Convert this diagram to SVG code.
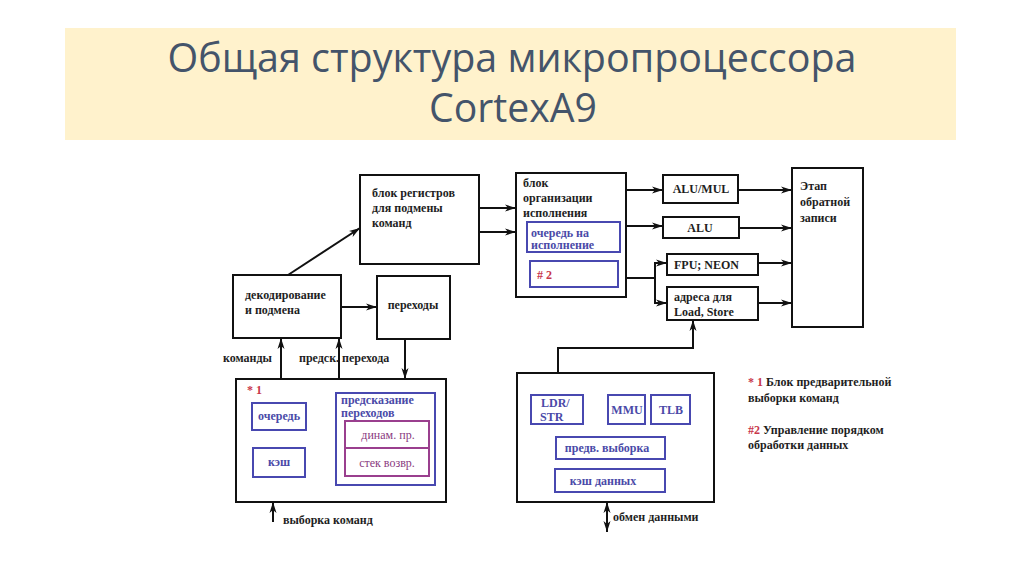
<svg xmlns="http://www.w3.org/2000/svg" width="1024" height="574" viewBox="0 0 1024 574">
<defs>
<marker id="arr" markerUnits="userSpaceOnUse" markerWidth="12" markerHeight="8" refX="11" refY="4" orient="auto-start-reverse">
<path d="M0,0.5 L11,4 L0,7.5 L3,4 Z" fill="#111"/>
</marker>
</defs>
<style>
.bx{fill:#fff;stroke:#111;stroke-width:2}
.bb{fill:none;stroke:#4848b0;stroke-width:2}
.bp{fill:none;stroke:#9a3f8e;stroke-width:2}
.t{font-family:"Liberation Serif","Times New Roman",serif;font-weight:bold;font-size:12px;fill:#1e1e1e}
.tb{fill:#4a4aa8}
.tr{fill:#c8364a}
.tp{font-family:"Liberation Serif","Times New Roman",serif;font-size:12px;fill:#8a3a80}
.c{text-anchor:middle}
.ln{fill:none;stroke:#111;stroke-width:2}
.ttl{font-family:"Open Sans","Noto Sans",sans-serif;font-size:40px;font-weight:500;fill:#44546A;text-anchor:middle}
</style>
<rect width="1024" height="574" fill="#fff"/>
<g id="title">
<rect x="65" y="28" width="891" height="112" fill="#FFF2CC"/>
<text class="ttl" x="512" y="72" textLength="689" lengthAdjust="spacingAndGlyphs">Общая структура микропроцессора</text>
<text class="ttl" x="513" y="122" textLength="168" lengthAdjust="spacingAndGlyphs">CortexA9</text>
</g>
<g id="connectors">
<line class="ln" x1="288" y1="275" x2="360" y2="228" marker-end="url(#arr)"/>
<line class="ln" x1="479" y1="208" x2="516" y2="208" marker-end="url(#arr)"/>
<line class="ln" x1="479" y1="232" x2="516" y2="232" marker-end="url(#arr)"/>
<line class="ln" x1="341" y1="307" x2="377" y2="307" marker-end="url(#arr)"/>
<line class="ln" x1="405" y1="339" x2="405" y2="379" marker-end="url(#arr)"/>
<line class="ln" x1="281" y1="379" x2="281" y2="338" marker-end="url(#arr)"/>
<line class="ln" x1="339" y1="379" x2="339" y2="338" marker-end="url(#arr)"/>
<line class="ln" x1="273" y1="522" x2="273" y2="502" marker-end="url(#arr)"/>
<line class="ln" x1="626" y1="190" x2="663" y2="190" marker-end="url(#arr)"/>
<line class="ln" x1="626" y1="226" x2="663" y2="226" marker-end="url(#arr)"/>
<path class="ln" d="M626,278 H655"/>
<path class="ln" d="M655,278 V263 H667" marker-end="url(#arr)"/>
<path class="ln" d="M655,278 V303 H667" marker-end="url(#arr)"/>
<line class="ln" x1="738" y1="190" x2="792" y2="190" marker-end="url(#arr)"/>
<line class="ln" x1="739" y1="228" x2="792" y2="228" marker-end="url(#arr)"/>
<line class="ln" x1="758" y1="263" x2="792" y2="263" marker-end="url(#arr)"/>
<line class="ln" x1="758" y1="303" x2="792" y2="303" marker-end="url(#arr)"/>
<path class="ln" d="M693,320 V348 H558 V395" marker-start="url(#arr)" marker-end="url(#arr)"/>
<line class="ln" x1="607" y1="502" x2="607" y2="532" marker-start="url(#arr)" marker-end="url(#arr)"/>
</g>
<g id="regs">
<rect class="bx" x="360" y="175" width="119" height="89"/>
<text class="t" x="372" y="197">блок регистров</text>
<text class="t" x="372" y="212">для подмены</text>
<text class="t" x="372" y="227">команд</text>
</g>
<g id="decode">
<rect class="bx" x="233" y="275" width="108" height="63"/>
<text class="t" x="245" y="299">декодирование</text>
<text class="t" x="245" y="314">и подмена</text>
</g>
<g id="jumps">
<rect class="bx" x="377" y="276" width="73" height="63"/>
<text class="t c" x="413" y="309">переходы</text>
</g>
<g id="execorg">
<rect class="bx" x="516" y="173" width="110" height="124"/>
<text class="t" x="523" y="187">блок</text>
<text class="t" x="523" y="202">организации</text>
<text class="t" x="523" y="217">исполнения</text>
<rect class="bb" x="527" y="222" width="93" height="30"/>
<text class="t tb" x="531" y="237">очередь на</text>
<text class="t tb" x="531" y="249">исполнение</text>
<rect class="bb" x="530" y="261" width="88" height="26"/>
<text class="t tr" x="537" y="279"># 2</text>
</g>
<g id="alumul">
<rect class="bx" x="663" y="175" width="75" height="28"/>
<text class="t c" x="701" y="193">ALU/MUL</text>
</g>
<g id="alu">
<rect class="bx" x="663" y="217" width="76" height="21"/>
<text class="t c" x="700" y="232">ALU</text>
</g>
<g id="fpu">
<rect class="bx" x="667" y="254" width="91" height="21"/>
<text class="t" x="674" y="269">FPU; NEON</text>
</g>
<g id="addr">
<rect class="bx" x="667" y="287" width="91" height="33"/>
<text class="t" x="674" y="301">адреса для</text>
<text class="t" x="674" y="316">Load, Store</text>
</g>
<g id="writeback">
<rect class="bx" x="792" y="168" width="71" height="159"/>
<text class="t" x="800" y="190">Этап</text>
<text class="t" x="800" y="206">обратной</text>
<text class="t" x="800" y="222">записи</text>
</g>
<g id="labels">
<text class="t" x="223" y="362">команды</text>
<text class="t" x="299" y="362">предск. перехода</text>
<text class="t" x="283" y="524">выборка команд</text>
<text class="t" x="613" y="521">обмен данными</text>
</g>
<g id="fetch">
<rect class="bx" x="236" y="379" width="210" height="123"/>
<text class="t tr" x="247" y="394">* 1</text>
<rect class="bb" x="252" y="403" width="54" height="27"/>
<text class="t tb c" x="279" y="420">очередь</text>
<rect class="bb" x="253" y="448" width="52" height="29"/>
<text class="t tb c" x="279" y="466">кэш</text>
<rect class="bb" x="336" y="393" width="99" height="92"/>
<text class="t tb" x="341" y="404">предсказание</text>
<text class="t tb" x="341" y="417">переходов</text>
<rect class="bp" x="345" y="421" width="84" height="55"/>
<line class="bp" x1="345" y1="448" x2="429" y2="448"/>
<text class="tp c" x="388" y="439">динам. пр.</text>
<text class="tp c" x="387" y="467">стек возвр.</text>
</g>
<g id="memory">
<rect class="bx" x="517" y="373" width="197" height="129"/>
<rect class="bb" x="531" y="395" width="52" height="29"/>
<text class="t tb" x="541" y="407">LDR/</text>
<text class="t tb" x="540" y="421">STR</text>
<rect class="bb" x="608" y="395" width="37" height="29"/>
<text class="t tb c" x="627" y="414">MMU</text>
<rect class="bb" x="651" y="395" width="39" height="29"/>
<text class="t tb c" x="671" y="414">TLB</text>
<rect class="bb" x="556" y="437" width="109" height="22"/>
<text class="t tb c" x="607" y="452">предв. выборка</text>
<rect class="bb" x="555" y="469" width="110" height="23"/>
<text class="t tb c" x="603" y="485">кэш данных</text>
</g>
<g id="legend">
<text class="t" x="748" y="386"><tspan class="tr">* 1</tspan> Блок предварительной</text>
<text class="t" x="748" y="402">выборки команд</text>
<text class="t" x="748" y="434"><tspan class="tr">#2</tspan> Управление порядком</text>
<text class="t" x="748" y="449">обработки данных</text>
</g>
</svg>
